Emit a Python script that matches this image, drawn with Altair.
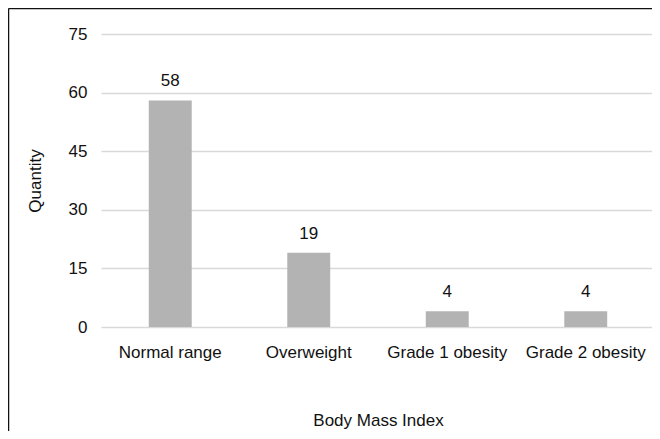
import altair as alt
import pandas as pd

categories = ["Normal range", "Overweight", "Grade 1 obesity", "Grade 2 obesity"]
quantities = [58, 19, 4, 4]
y_ticks = [0, 15, 30, 45, 60, 75]

df = pd.DataFrame({"bmi": categories, "quantity": quantities})

FONT = "Liberation Sans"
FS = 17
W, H = 554, 293

x_enc = alt.X(
    "bmi:N",
    sort=categories,
    scale=alt.Scale(paddingInner=0.69, paddingOuter=0.345),
    axis=alt.Axis(
        title="Body Mass Index",
        labelAngle=0,
        labelPadding=17,
        labelFontSize=FS,
        labelColor="#111",
        labelFont=FONT,
        grid=False,
        ticks=False,
        domain=False,
        titleFontSize=FS,
        titleFontWeight="normal",
        titleFont=FONT,
        titleColor="#111",
        titleX=W / 2,
        titleY=93,
        titleBaseline="middle",
    ),
)
y_enc = alt.Y(
    "quantity:Q",
    scale=alt.Scale(domain=[0, 75], nice=False),
    axis=alt.Axis(
        title="Quantity",
        values=y_ticks,
        grid=True,
        gridColor="#d9d9d9",
        gridWidth=1.5,
        ticks=False,
        domain=False,
        labelPadding=14,
        labelFontSize=FS,
        labelColor="#111",
        labelFont=FONT,
        titleFontSize=FS,
        titleFontWeight="normal",
        titleFont=FONT,
        titleColor="#111",
        titleAngle=-90,
        titleX=-66,
        titleY=H / 2,
        titleBaseline="middle",
        titleAlign="center",
    ),
)

base = alt.Chart(df).encode(x=x_enc, y=y_enc)

bars = base.mark_bar(color="#b3b3b3")
labels = base.mark_text(
    baseline="bottom", dy=-10, fontSize=FS, font=FONT, color="#111"
).encode(text="quantity:Q")

frame_data = alt.Data(values=[{"f": 1}])
frame_left = alt.Chart(frame_data).mark_rule(color="#111", strokeWidth=1.5).encode(
    x=alt.value(-92.5), y=alt.value(-25.5), y2=alt.value(H + 110)
)
frame_top = alt.Chart(frame_data).mark_rule(color="#111", strokeWidth=1.5).encode(
    x=alt.value(-92.5), x2=alt.value(W + 60), y=alt.value(-25.5)
)

chart = (
    alt.layer(bars, labels, frame_left, frame_top)
    .properties(
        width=W,
        height=H,
        background="white",
        autosize=alt.AutoSizeParams(type="none"),
        padding={"left": 93, "top": 26, "right": -3, "bottom": 104},
    )
    .configure_view(stroke="transparent", strokeWidth=0)
    .configure_axis(domain=False, ticks=False)
)

chart.save("out.html", embed_options={"renderer": "svg", "actions": False})
